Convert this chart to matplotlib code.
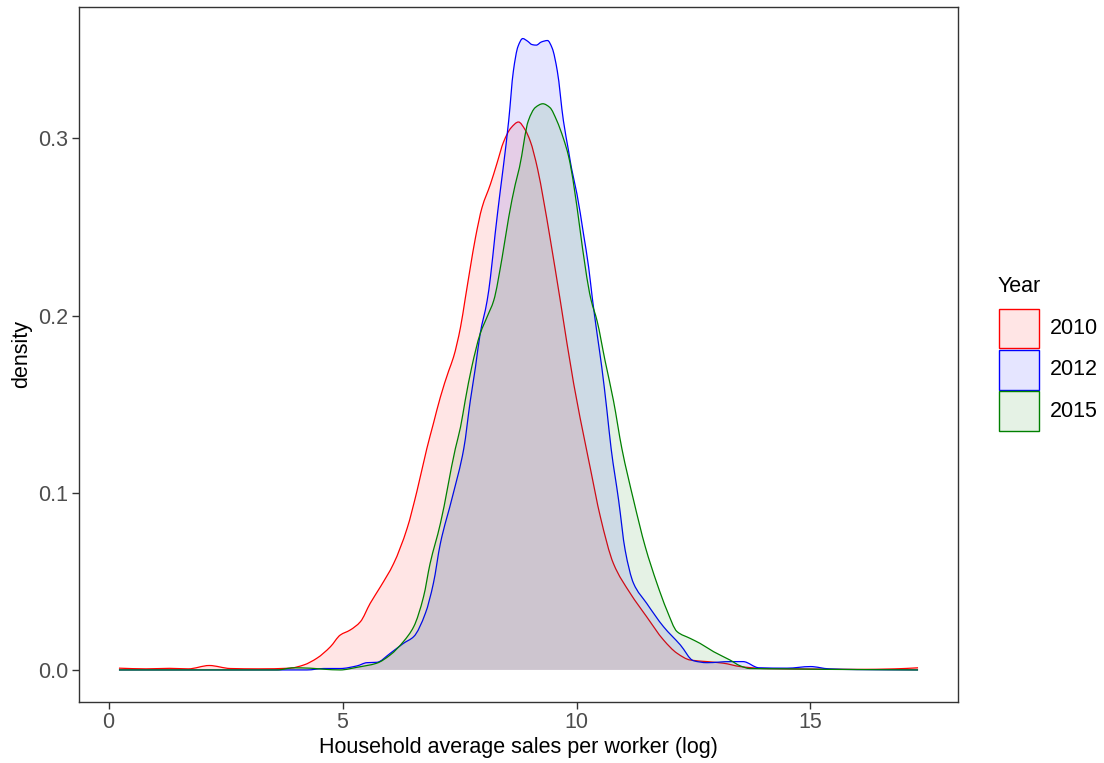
import numpy as np
import matplotlib
matplotlib.use("Agg")
import matplotlib.pyplot as plt
from matplotlib.patches import Rectangle, PathPatch
from matplotlib.path import Path

plt.rcParams['font.family'] = ['Liberation Sans', 'DejaVu Sans']

# Density estimates of log sales per worker, by survey year
years = ["2010", "2012", "2015"]
line_colors = ["#FF0000", "#0000FF", "#008000"]

x_2010 = [0.22, 0.8, 1.3, 1.7, 2.15, 2.6, 3.2, 3.88, 4.17, 4.45, 4.74, 4.95, 5.16,
          5.38, 5.59, 5.81, 6.09, 6.38, 6.59, 6.80, 6.94, 7.09, 7.27, 7.37, 7.52,
          7.62, 7.73, 7.84, 7.98, 8.16, 8.30, 8.44, 8.60, 8.76, 8.90, 9.01, 9.17,
          9.29, 9.44, 9.65, 9.94, 10.21, 10.29, 10.51, 10.79, 11.15, 11.50, 11.86,
          12.15, 12.43, 12.79, 13.14, 13.5, 14.0, 15.0, 16.0, 16.8, 17.3]
y_2010 = [0.0010, 0.0006, 0.0009, 0.0006, 0.0025, 0.0008, 0.0006, 0.0010, 0.0028,
          0.0066, 0.0131, 0.0197, 0.0225, 0.0272, 0.0376, 0.0470, 0.0600, 0.0800,
          0.1010, 0.1249, 0.1390, 0.1540, 0.1690, 0.1765, 0.1934, 0.2094, 0.2272,
          0.2440, 0.2610, 0.2742, 0.2860, 0.2980, 0.3060, 0.3093, 0.3050, 0.2986,
          0.2826, 0.2660, 0.2430, 0.2090, 0.1615, 0.1249, 0.1145, 0.0864, 0.0600,
          0.0432, 0.0300, 0.0169, 0.0094, 0.0056, 0.0047, 0.0038, 0.0019, 0.0008,
          0.0005, 0.0003, 0.0006, 0.0012]

x_2012 = [0.22, 4.24, 4.6, 4.95, 5.31, 5.52, 5.73, 6.02, 6.30, 6.52, 6.77, 6.94,
          7.09, 7.35, 7.59, 7.73, 7.84, 7.94, 8.09, 8.16, 8.26, 8.37, 8.44, 8.55,
          8.65, 8.75, 8.85, 8.95, 9.05, 9.14, 9.25, 9.38, 9.48, 9.59, 9.72, 9.83,
          9.89, 10.01, 10.15, 10.26, 10.34, 10.44, 10.54, 10.65, 10.74, 10.90,
          11.04, 11.22, 11.50, 11.86, 12.22, 12.50, 12.79, 13.28, 13.56, 13.9,
          14.5, 15.0, 15.4, 16.0, 17.3]
y_2012 = [0.0, 0.0, 0.0008, 0.0008, 0.0023, 0.0041, 0.0043, 0.0094, 0.0150, 0.0188,
          0.0320, 0.0488, 0.0714, 0.0980, 0.1249, 0.1520, 0.1709, 0.1897, 0.2085,
          0.2216, 0.2460, 0.2704, 0.2850, 0.3100, 0.3380, 0.3520, 0.3564, 0.3550,
          0.3530, 0.3527, 0.3545, 0.3553, 0.3510, 0.3380, 0.3100, 0.2930, 0.2836,
          0.2686, 0.2460, 0.2272, 0.2094, 0.1897, 0.1709, 0.1465, 0.1249, 0.0958,
          0.0676, 0.0488, 0.0376, 0.0244, 0.0141, 0.0052, 0.0041, 0.0047, 0.0047,
          0.0012, 0.0010, 0.0019, 0.0006, 0.0002, 0.0]

x_2015 = [0.22, 3.6, 3.95, 4.3, 4.6, 4.95, 5.31, 5.73, 6.02, 6.30, 6.52, 6.73, 6.87,
          7.09, 7.41, 7.52, 7.62, 7.76, 7.94, 8.10, 8.23, 8.41, 8.55, 8.69, 8.78,
          8.97, 9.12, 9.28, 9.43, 9.58, 9.72, 9.83, 10.31, 10.44, 10.61, 10.79,
          10.97, 11.22, 11.47, 11.72, 11.93, 12.15, 12.43, 12.64, 12.93, 13.28,
          13.5, 13.7, 14.5, 15.5, 17.3]
y_2015 = [0.0, 0.0, 0.0012, 0.0010, 0.0004, 0.0, 0.0015, 0.0038, 0.0085, 0.0160,
          0.0244, 0.0413, 0.0600, 0.0826, 0.1249, 0.1370, 0.1520, 0.1709, 0.1897,
          0.2000, 0.2085, 0.2328, 0.2554, 0.2740, 0.2836, 0.3100, 0.3175, 0.3196,
          0.3175, 0.3100, 0.3000, 0.2900, 0.2090, 0.1970, 0.1746, 0.1520, 0.1249,
          0.0958, 0.0695, 0.0488, 0.0338, 0.0216, 0.0178, 0.0150, 0.0103, 0.0056,
          0.0023, 0.0008, 0.0006, 0.0003, 0.0]

series = [(x_2010, y_2010), (x_2012, y_2012), (x_2015, y_2015)]


def pchip_slopes(x, y):
    """Fritsch-Carlson tangents: a shape-preserving cubic through the points."""
    h = np.diff(x)
    d = np.diff(y) / h
    m = np.zeros_like(y)
    for k in range(1, len(y) - 1):
        if d[k - 1] * d[k] <= 0:
            m[k] = 0.0
        else:
            w1 = 2 * h[k] + h[k - 1]
            w2 = h[k] + 2 * h[k - 1]
            m[k] = (w1 + w2) / (w1 / d[k - 1] + w2 / d[k])
    m[0] = d[0]
    m[-1] = d[-1]
    return m


def smooth_vertices(x, y):
    """Cubic Bezier vertices/codes for the Hermite curve through (x, y)."""
    m = pchip_slopes(x, y)
    verts = [(x[0], y[0])]
    codes = [Path.MOVETO]
    for k in range(len(x) - 1):
        h = x[k + 1] - x[k]
        verts += [(x[k] + h / 3, y[k] + m[k] * h / 3),
                  (x[k + 1] - h / 3, y[k + 1] - m[k + 1] * h / 3),
                  (x[k + 1], y[k + 1])]
        codes += [Path.CURVE4] * 3
    return verts, codes


W, H = 1104, 763
fig = plt.figure(figsize=(W / 100, H / 100), dpi=100)
ax = fig.add_axes([79 / W, 1 - 701.5 / H, (958 - 79) / W, (701.5 - 7) / H])

for (xs, ys), col in zip(series, line_colors):
    xs = np.asarray(xs, dtype=float)
    ys = np.asarray(ys, dtype=float)
    verts, codes = smooth_vertices(xs, ys)
    # filled area down to the baseline
    fverts = verts + [(xs[-1], 0.0), (xs[0], 0.0), (xs[0], ys[0])]
    fcodes = codes + [Path.LINETO, Path.LINETO, Path.CLOSEPOLY]
    ax.add_patch(PathPatch(Path(fverts, fcodes), facecolor=col, alpha=0.1,
                           edgecolor="none", linewidth=0))
    # upper outline
    ax.add_patch(PathPatch(Path(verts, codes), facecolor="none", edgecolor=col,
                           linewidth=0.9))

# ggplot-style 5% expansion on both scales
all_x = np.concatenate([np.asarray(s[0]) for s in series])
all_y = np.concatenate([np.asarray(s[1]) for s in series])
xr = all_x.max() - all_x.min()
yr = all_y.max() - 0.0
ax.set_xlim(all_x.min() - 0.05 * xr, all_x.max() + 0.05 * xr)
ax.set_ylim(0.0 - 0.05 * yr, all_y.max() + 0.05 * yr)

ax.set_xticks([0, 5, 10, 15])
ax.set_yticks([0.0, 0.1, 0.2, 0.3])
ax.set_yticklabels(["0.0", "0.1", "0.2", "0.3"])

for sp in ax.spines.values():
    sp.set_color("#333333")
    sp.set_linewidth(1.0)
ax.tick_params(axis="both", which="major", length=4.8, width=1.0, color="#333333",
               labelcolor="#4D4D4D", labelsize=15.5, pad=3)

ax.set_xlabel("Household average sales per worker (log)", fontsize=15.5, color="black",
              labelpad=3)
ax.set_ylabel("density", fontsize=15.5, color="black", labelpad=4)

# Legend: title plus stacked keys
fig.text(998 / W, 1 - 287 / H, "Year", fontsize=15.5, ha="left", va="center")
key_top = 307.5
key_h = 41.5
for i, (lab, col) in enumerate(zip(years, line_colors)):
    y0 = key_top + i * key_h
    fig.add_artist(Rectangle((999 / W, 1 - (y0 + key_h - 1) / H), 40 / W, (key_h - 2) / H,
                             transform=fig.transFigure,
                             facecolor=matplotlib.colors.to_rgba(col, 0.1),
                             edgecolor=col, linewidth=1.0))
    fig.text(1050 / W, 1 - (y0 + key_h / 2) / H, lab, fontsize=15.5, ha="left", va="center")

fig.savefig("out.png", dpi=100, facecolor="white")
